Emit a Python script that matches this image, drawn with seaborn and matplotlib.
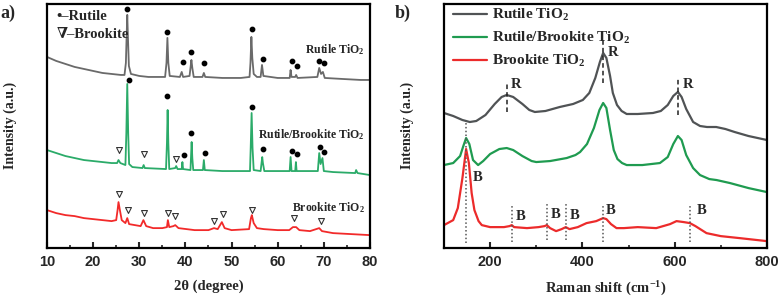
import matplotlib
matplotlib.use('Agg')
import matplotlib.pyplot as plt
from matplotlib.ticker import MultipleLocator, NullLocator
import pandas as pd
import seaborn as sns

# ---------------------------------------------------------------------------
# Data (intensity in arbitrary units, stacked offsets)
# ---------------------------------------------------------------------------

# a) XRD, 2-theta in degrees
XRD_R_X = [10, 12, 14, 16, 18, 20, 22, 24, 26, 26.8, 27.1, 27.25, 27.4, 27.55, 27.75, 28.2,
           30, 32, 34, 35.6, 35.9, 36.1, 36.3, 36.6, 38.8, 39.2, 39.5, 40.9, 41.15, 41.3,
           41.5, 41.8, 43.7, 44.0, 44.3, 48, 52, 53.9, 54.1, 54.3, 54.5, 54.8, 55.5, 56.3,
           56.6, 56.9, 60, 62.6, 62.8, 63.0, 63.8, 64.0, 64.3, 68.6, 69.0, 69.4, 69.8, 70.2,
           74, 78, 80]
XRD_R_Y = [191, 187, 184, 181, 179, 177, 175, 174, 173, 173, 185, 210, 233, 210, 182, 174,
           172, 171, 171, 171, 185, 210, 185, 172, 171, 176, 171, 172, 182, 188,
           180, 171, 171, 175, 171, 170, 170, 171, 185, 211, 190, 174, 171, 171,
           183, 172, 170, 170, 178, 171, 171, 173, 170, 171, 180, 174, 176, 170,
           169, 168, 168]

XRD_RB_X = [10, 12, 14, 16, 18, 20, 22, 24, 25.2, 25.5, 25.9, 27.0, 27.2, 27.4, 27.6, 27.8,
            28.5, 30.7, 30.95, 31.2, 35.8, 36.0, 36.15, 36.3, 36.5, 37.8, 38.0, 38.3, 39.2,
            39.35, 39.5, 41.1, 41.25, 41.35, 41.5, 41.7, 43.8, 44.0, 44.2, 48, 52, 54.0,
            54.15, 54.35, 54.55, 54.8, 56.3, 56.5, 56.65, 56.8, 57.1, 62.6, 62.8, 63.0, 63.8,
            63.95, 64.1, 68.7, 69.0, 69.3, 69.7, 70.0, 72, 76.8, 77.0, 77.3, 80]
XRD_RB_Y = [98, 95, 92, 90, 88, 87, 86, 85, 85, 88, 85, 83, 115, 164, 115, 84,
            81, 80, 83, 80, 79, 105, 138, 105, 79, 80, 82, 79, 79,
            86, 79, 78, 95, 106, 90, 78, 78, 88, 78, 77, 77, 77,
            100, 135, 100, 78, 77, 85, 91, 85, 77, 77, 91, 77, 77,
            86, 77, 77, 95, 84, 90, 77, 76, 75, 78, 75, 73]

XRD_B_X = [10, 12, 14, 16, 18, 20, 22, 24, 25.0, 25.3, 25.5, 25.8, 26.2, 27.0, 27.4, 27.8,
           30.3, 30.9, 31.5, 33, 35, 36.0, 36.2, 36.5, 37.4, 37.8, 38.5, 42, 45, 46.2, 47.0,
           47.9, 48.5, 50, 53.8, 54.2, 54.4, 54.8, 55.5, 57, 60, 62.5, 63.3, 64.0, 64.7, 67,
           69.0, 69.6, 72, 76, 80]
XRD_B_Y = [38, 35, 33, 32, 30, 29, 28, 27, 28, 38, 46, 38, 28, 25, 30, 24,
           22, 28, 22, 20, 20, 21, 28, 21, 22, 23, 20, 18, 18, 20, 19,
           26, 20, 18, 19, 30, 33, 25, 20, 19, 18, 18, 21, 21, 18, 17,
           20, 17, 15, 14, 13]

# peak markers in panel a
RUTILE_DOT_X = [27.4, 36.1, 39.4, 41.3, 44.1, 54.4, 56.9, 63.0, 64.2, 69.0, 70.0,
                27.8, 36.1, 39.6, 41.3, 44.3, 54.4, 56.9, 63.0, 64.2, 69.1, 70.0]
RUTILE_DOT_Y = [239, 216, 186, 196, 185, 219, 189, 187, 182, 187, 185,
                168, 152, 93, 115, 95, 141, 99, 97, 94, 101, 96]
BROOKITE_TRI_X = [25.7, 31.0, 38.0,
                  25.6, 27.6, 31.0, 36.2, 37.8, 46.2, 48.2, 54.4, 63.5, 69.4]
BROOKITE_TRI_Y = [98, 94, 89,
                  54, 38, 35, 35, 32, 27, 34, 38, 30, 27]

# b) Raman, shift in cm-1
RAMAN_R_X = [100, 120, 140, 156, 170, 190, 210, 225, 236, 250, 270, 285, 297, 320, 351, 380,
             401, 415, 428, 438, 445, 452, 460, 466, 475, 485, 496, 520, 553, 570, 585, 597,
             607, 615, 625, 640, 655, 670, 690, 710, 730, 760, 800]
RAMAN_R_Y = [135, 132, 128, 126, 127, 133, 144, 151, 153, 151, 144, 138, 136, 137, 141, 144,
             148, 155, 170, 186, 195, 190, 172, 155, 143, 137, 134, 134, 135, 137, 143, 152,
             156, 151, 139, 126, 122, 121, 121, 119, 116, 112, 108]

RAMAN_RB_X = [100, 120, 135, 142, 148, 155, 163, 174, 185, 200, 220, 236, 250, 270, 290, 300,
              330, 366, 385, 395, 410, 425, 437, 445, 452, 460, 468, 476, 486, 496, 530, 568,
              585, 597, 607, 615, 625, 640, 655, 675, 691, 720, 760, 800]
RAMAN_RB_Y = [83, 85, 92, 102, 110, 104, 88, 83, 87, 94, 99, 100, 98, 92, 87, 86,
              87, 90, 93, 96, 104, 120, 138, 145, 140, 118, 98, 89, 85, 83, 83, 85,
              91, 104, 112, 108, 93, 80, 73, 69, 68, 65, 60, 56]

RAMAN_B_X = [100, 120, 130, 140, 148, 154, 160, 166, 175, 182, 200, 230, 242, 247, 252, 280,
             305, 318, 323, 330, 343, 355, 364, 372, 390, 409, 430, 445, 452, 462, 474, 490,
             520, 560, 590, 604, 620, 633, 645, 669, 700, 741, 800]
RAMAN_B_Y = [23, 28, 40, 70, 99, 85, 55, 38, 27, 23, 21, 21, 22, 23, 21, 20,
             21, 22, 23, 20, 17, 19, 21, 19, 21, 25, 27, 30, 29, 24, 20, 20,
             21, 20, 24, 27, 26, 25, 22, 15, 12, 10, 7]

# rutile (dashed) and brookite (dotted) guide lines in panel b
R_LINE_X = [236, 445, 607]
R_LINE_LO = [136, 165, 133]
R_LINE_HI = [166, 208, 171]
R_TEXT_X = [245, 456, 617]
R_TEXT_Y = [163, 195, 163]
B_LINE_X = [148, 247, 323, 364, 445, 633]
B_LINE_LO = [5, 6, 8, 8, 6, 6]
B_LINE_HI = [126, 43, 45, 45, 43, 43]
B_TEXT_X = [163, 256, 332, 373, 451, 648]
B_TEXT_Y = [71, 32, 34, 33, 38, 38]

SAMPLES = ['Rutile TiO$_2$', 'Rutile/Brookite TiO$_2$', 'Brookite TiO$_2$']
XRD_COLORS = ['#6a6a6a', '#2bab69', '#f22a2a']
RAMAN_COLORS = ['#505355', '#1f9b50', '#ec2b2b']

SERIF = ['Liberation Serif', 'DejaVu Serif']
SANS = ['Liberation Sans', 'DejaVu Sans']


# ---------------------------------------------------------------------------
# Helpers
# ---------------------------------------------------------------------------

def _long(xs, ys):
    frames = []
    for name, x, y in zip(SAMPLES, xs, ys):
        frames.append(pd.DataFrame({'x': x, 'y': y, 'sample': name}))
    return pd.concat(frames, ignore_index=True)


def _style_axes(ax, major, minor):
    for s in ax.spines.values():
        s.set_linewidth(1.6)
        s.set_color('black')
    ax.xaxis.set_major_locator(MultipleLocator(major))
    ax.xaxis.set_minor_locator(MultipleLocator(minor))
    ax.yaxis.set_major_locator(NullLocator())
    ax.tick_params(axis='x', which='major', direction='in', length=4, width=1.5,
                   pad=5, labelsize=10.5)
    ax.tick_params(axis='x', which='minor', direction='in', length=2.5, width=1.2)
    for lab in ax.get_xticklabels():
        lab.set_fontfamily(SANS)
        lab.set_fontweight('bold')
    ax.set_ylabel('Intensity (a.u.)', fontsize=10, fontweight='bold', family=SERIF)
    ax.yaxis.set_label_coords(-0.093, 0.5)
    ax.xaxis.set_label_coords(0.5, -0.13)


# ---------------------------------------------------------------------------
# Panels
# ---------------------------------------------------------------------------

def draw_xrd(ax):
    df = _long([XRD_R_X, XRD_RB_X, XRD_B_X], [XRD_R_Y, XRD_RB_Y, XRD_B_Y])
    sns.lineplot(data=df, x='x', y='y', hue='sample', palette=XRD_COLORS,
                 estimator=None, linewidth=1.3, legend=False, ax=ax)
    ax.scatter(RUTILE_DOT_X, RUTILE_DOT_Y, s=10, color='black', zorder=3)
    ax.scatter(BROOKITE_TRI_X, BROOKITE_TRI_Y, s=18, marker='v', facecolor='white',
               edgecolor='#333333', linewidth=0.8, zorder=3)

    ax.text(12.1, 231, '•–Rutile', fontsize=10.5, fontweight='bold', family=SERIF,
            va='center')
    ax.text(12.1, 213, '∇–Brookite', fontsize=10.5, fontweight='bold', family=SERIF,
            va='center')
    for label, y in zip(SAMPLES, [198, 113, 40]):
        ax.text(78.9, y, label, fontsize=8.5, fontweight='bold', family=SERIF,
                ha='right', va='center')

    ax.set_xlim(10, 80)
    ax.set_ylim(0.5, 244)
    ax.set_xlabel('2θ (degree)', fontsize=10.5, fontweight='bold', family=SERIF)
    _style_axes(ax, 10, 5)


def draw_raman(ax):
    df = _long([RAMAN_R_X, RAMAN_RB_X, RAMAN_B_X], [RAMAN_R_Y, RAMAN_RB_Y, RAMAN_B_Y])
    sns.lineplot(data=df, x='x', y='y', hue='sample', palette=RAMAN_COLORS,
                 estimator=None, linewidth=1.6, ax=ax)

    ax.vlines(R_LINE_X, R_LINE_LO, R_LINE_HI, colors='#222222', linestyles=(0, (3, 2)),
              linewidth=1.1)
    ax.vlines(B_LINE_X, B_LINE_LO, B_LINE_HI, colors='#555555', linestyles=(0, (1, 1.5)),
              linewidth=1.1)
    for x, y in zip(R_TEXT_X, R_TEXT_Y):
        ax.text(x, y, 'R', fontsize=10.5, fontweight='bold', family=SERIF, va='center')
    for x, y in zip(B_TEXT_X, B_TEXT_Y):
        ax.text(x, y, 'B', fontsize=10.5, fontweight='bold', family=SERIF, va='center')

    handles, labels = ax.get_legend_handles_labels()
    ax.legend(handles, labels, loc='upper left', bbox_to_anchor=(0.0, 1.025),
              frameon=False, handlelength=2.2, handletextpad=0.35, labelspacing=0.45,
              borderaxespad=0.2, prop={'family': SERIF, 'weight': 'bold', 'size': 11})

    ax.set_xlim(100, 800)
    ax.set_ylim(0.5, 244)
    ax.set_xlabel('Raman shift (cm$^{-1}$)', fontsize=10.5, fontweight='bold', family=SERIF)
    _style_axes(ax, 200, 100)


# ---------------------------------------------------------------------------
# Entry point
# ---------------------------------------------------------------------------

def main():
    sns.set_theme(style='ticks')
    plt.rcParams['font.family'] = SERIF
    plt.rcParams['mathtext.fontset'] = 'custom'
    plt.rcParams['mathtext.rm'] = 'Liberation Serif:bold'
    plt.rcParams['mathtext.bf'] = 'Liberation Serif:bold'
    plt.rcParams['mathtext.default'] = 'bf'

    fig = plt.figure(figsize=(7.83, 2.98), dpi=100)
    ax_a = fig.add_axes([0.060, 0.169, 0.4125, 0.818])
    ax_b = fig.add_axes([0.567, 0.169, 0.4125, 0.818])

    draw_xrd(ax_a)
    draw_raman(ax_b)

    fig.text(0.0, 0.955, 'a)', fontsize=13, fontweight='bold', family=SERIF, va='center')
    fig.text(0.504, 0.955, 'b)', fontsize=13, fontweight='bold', family=SERIF, va='center')

    fig.savefig('out.png', dpi=100)
    plt.close(fig)


if __name__ == '__main__':
    main()
